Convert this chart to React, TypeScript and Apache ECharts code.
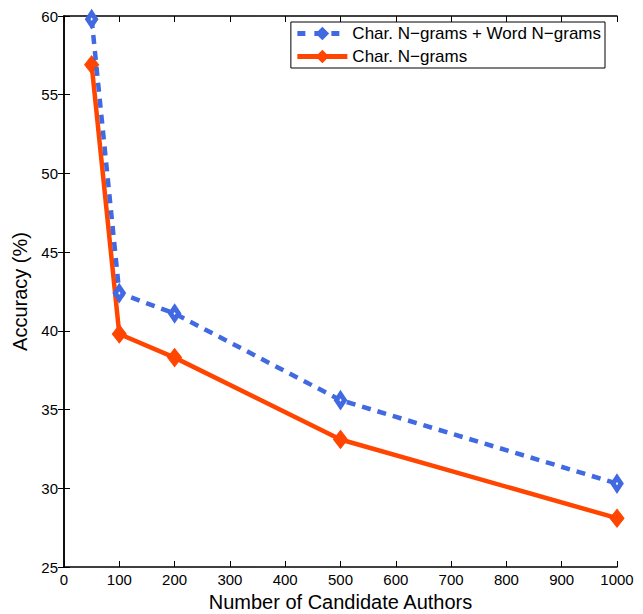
import React, { useEffect, useRef } from "react";
import * as echarts from "echarts";

const authors = [50, 100, 200, 500, 1000];
const charWord = [59.8, 42.4, 41.1, 35.6, 30.3];
const charOnly = [56.9, 39.8, 38.3, 33.1, 28.1];
const seriesNames = ["Char. N\u2212grams + Word N\u2212grams", "Char. N\u2212grams"];

const FONT = "Liberation Sans, Arial, Helvetica, sans-serif";
const BLUE = "#4169E1";
const ORANGE = "#FF4500";

export default function App() {
  const ref = useRef<HTMLDivElement>(null);
  useEffect(() => {
    if (!ref.current) return;
    const chart = echarts.init(ref.current, null, { renderer: "svg" });
    const tickStyle = { show: true, inside: true, length: 6, lineStyle: { color: "#000", width: 1 } };
    const lineStyle = { color: "#000", width: 1.5 };
    chart.setOption({
      animation: false,
      backgroundColor: "#fff",
      textStyle: { fontFamily: FONT },
      grid: { left: 64, right: 26, top: 16, bottom: 47, show: false, containLabel: false, outerBoundsMode: "none" },
      legend: {
        top: 22,
        right: 38,
        orient: "vertical",
        backgroundColor: "#fff",
        borderColor: "#000",
        borderWidth: 1,
        borderRadius: 0,
        padding: [3, 4, 3, 4],
        itemGap: 6,
        itemWidth: 50,
        itemHeight: 17,
        textStyle: { fontSize: 17, color: "#000", fontFamily: FONT },
        data: [
          {
            name: seriesNames[0],
            itemStyle: { color: BLUE, borderColor: BLUE, borderWidth: 0 },
            lineStyle: { color: BLUE, width: 5, type: [8, 9] },
          },
          {
            name: seriesNames[1],
            itemStyle: { color: ORANGE, borderColor: ORANGE, borderWidth: 0 },
            lineStyle: { color: ORANGE, width: 5, type: "solid" },
          },
        ],
      },
      xAxis: [
        {
          type: "value",
          min: 0,
          max: 1000,
          interval: 100,
          position: "bottom",
          name: "Number of Candidate Authors",
          nameLocation: "middle",
          nameGap: 22,
          nameTextStyle: { fontSize: 20, color: "#000", fontFamily: FONT },
          axisLine: { show: true, lineStyle },
          axisTick: tickStyle,
          axisLabel: { color: "#000", fontSize: 15, margin: 5, fontFamily: FONT, formatter: (v: number) => String(v) },
          splitLine: { show: false },
        },
        {
          type: "value",
          min: 0,
          max: 1000,
          interval: 100,
          position: "top",
          axisLine: { show: true, lineStyle },
          axisTick: tickStyle,
          axisLabel: { show: false },
          splitLine: { show: false },
        },
      ],
      yAxis: [
        {
          type: "value",
          min: 25,
          max: 60,
          interval: 5,
          position: "left",
          name: "Accuracy (%)",
          nameLocation: "middle",
          nameGap: 25,
          nameTextStyle: { fontSize: 20, color: "#000", fontFamily: FONT },
          axisLine: { show: true, lineStyle },
          axisTick: tickStyle,
          axisLabel: { color: "#000", fontSize: 15, margin: 6, fontFamily: FONT },
          splitLine: { show: false },
        },
        {
          type: "value",
          min: 25,
          max: 60,
          interval: 5,
          position: "right",
          axisLine: { show: true, lineStyle },
          axisTick: tickStyle,
          axisLabel: { show: false },
          splitLine: { show: false },
        },
      ],
      series: [
        {
          name: seriesNames[0],
          type: "line",
          data: authors.map((a, i) => [a, charWord[i]]),
          symbol: "diamond",
          symbolSize: [8, 12],
          showAllSymbol: true,
          z: 3,
          lineStyle: { color: BLUE, width: 4.5, type: [9, 7] },
          itemStyle: { color: "#fff", borderColor: BLUE, borderWidth: 5 },
        },
        {
          name: seriesNames[1],
          type: "line",
          data: authors.map((a, i) => [a, charOnly[i]]),
          symbol: "diamond",
          symbolSize: [14, 18],
          showAllSymbol: true,
          z: 2,
          lineStyle: { color: ORANGE, width: 4.5, type: "solid" },
          itemStyle: { color: ORANGE, borderColor: ORANGE, borderWidth: 1 },
        },
      ],
    });
    return () => chart.dispose();
  }, []);
  return (
    <div
      ref={ref}
      style={{ position: "fixed", left: 0, top: 0, width: 643, height: 614 }}
    />
  );
}
